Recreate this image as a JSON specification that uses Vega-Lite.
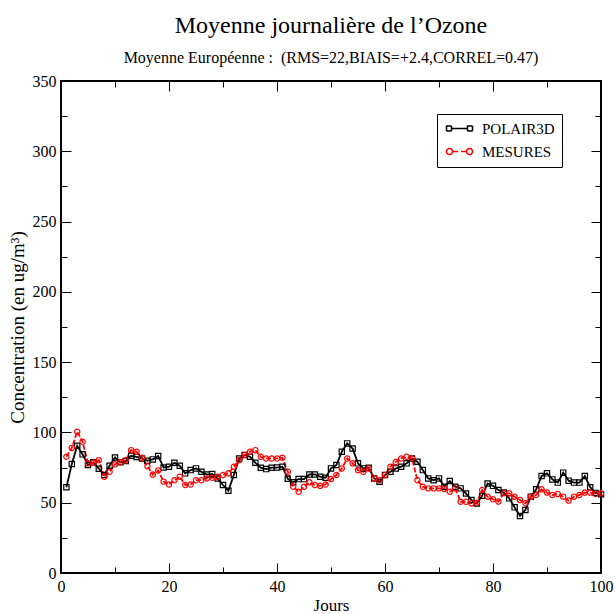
{
  "$schema": "https://vega.github.io/schema/vega-lite/v6.json",
  "autosize": "none",
  "width": 540,
  "height": 492,
  "padding": {"left": 61, "top": 81, "right": 15, "bottom": 41},
  "background": "white",
  "title": {
    "text": "Moyenne journalière de l’Ozone",
    "subtitle": "Moyenne Européenne : \u00a0(RMS=22,BIAIS=+2.4,CORREL=0.47)",
    "font": "Liberation Serif",
    "fontSize": 24,
    "fontWeight": "normal",
    "color": "black",
    "subtitleFont": "Liberation Serif",
    "subtitleFontSize": 16,
    "subtitleColor": "black",
    "subtitlePadding": 12,
    "offset": 7,
    "anchor": "middle",
    "frame": "group"
  },
  "config": {
    "view": {"stroke": "black", "strokeWidth": 2},
    "axis": {
      "labelFont": "Liberation Serif",
      "labelFontSize": 16,
      "labelColor": "black",
      "titleFont": "Liberation Serif",
      "titleFontSize": 16,
      "titleFontWeight": "normal",
      "titleColor": "black",
      "domain": false,
      "grid": false,
      "tickColor": "black",
      "tickWidth": 1,
      "tickSize": 0,
      "labelFlush": false,
      "labelOverlap": false
    },
    "legend": {
      "orient": "none",
      "legendX": 376,
      "legendY": 33,
      "title": null,
      "strokeColor": "black",
      "fillColor": "white",
      "padding": 7,
      "labelFont": "Liberation Serif",
      "labelFontSize": 15,
      "labelColor": "black",
      "symbolSize": 100,
      "symbolStrokeWidth": 1.5,
      "rowPadding": 7,
      "labelOffset": 23
    }
  },
  "data": {
    "values": [
      {"d":1,"s":"POLAIR3D","v":61},{"d":2,"s":"POLAIR3D","v":77.5},{"d":3,"s":"POLAIR3D","v":90.5},{"d":4,"s":"POLAIR3D","v":84.4},{"d":5,"s":"POLAIR3D","v":76.8},
      {"d":6,"s":"POLAIR3D","v":78.7},{"d":7,"s":"POLAIR3D","v":74.2},{"d":8,"s":"POLAIR3D","v":69.7},{"d":9,"s":"POLAIR3D","v":76.3},{"d":10,"s":"POLAIR3D","v":82.2},
      {"d":11,"s":"POLAIR3D","v":78.7},{"d":12,"s":"POLAIR3D","v":79.6},{"d":13,"s":"POLAIR3D","v":83.4},{"d":14,"s":"POLAIR3D","v":82.5},{"d":15,"s":"POLAIR3D","v":81.5},
      {"d":16,"s":"POLAIR3D","v":79.9},{"d":17,"s":"POLAIR3D","v":80.8},{"d":18,"s":"POLAIR3D","v":83.2},{"d":19,"s":"POLAIR3D","v":75.1},{"d":20,"s":"POLAIR3D","v":75.6},
      {"d":21,"s":"POLAIR3D","v":78.4},{"d":22,"s":"POLAIR3D","v":76.3},{"d":23,"s":"POLAIR3D","v":70.9},{"d":24,"s":"POLAIR3D","v":73.2},{"d":25,"s":"POLAIR3D","v":74.4},
      {"d":26,"s":"POLAIR3D","v":72},{"d":27,"s":"POLAIR3D","v":70.1},{"d":28,"s":"POLAIR3D","v":70.4},{"d":29,"s":"POLAIR3D","v":67.3},{"d":30,"s":"POLAIR3D","v":62.6},
      {"d":31,"s":"POLAIR3D","v":58.5},{"d":32,"s":"POLAIR3D","v":69.7},{"d":33,"s":"POLAIR3D","v":81.5},{"d":34,"s":"POLAIR3D","v":83.9},{"d":35,"s":"POLAIR3D","v":82.7},
      {"d":36,"s":"POLAIR3D","v":78.4},{"d":37,"s":"POLAIR3D","v":74.9},{"d":38,"s":"POLAIR3D","v":73.9},{"d":39,"s":"POLAIR3D","v":74.9},{"d":40,"s":"POLAIR3D","v":75},
      {"d":41,"s":"POLAIR3D","v":75.6},{"d":42,"s":"POLAIR3D","v":67},{"d":43,"s":"POLAIR3D","v":64.5},{"d":44,"s":"POLAIR3D","v":66.8},{"d":45,"s":"POLAIR3D","v":66.8},
      {"d":46,"s":"POLAIR3D","v":70.1},{"d":47,"s":"POLAIR3D","v":70.1},{"d":48,"s":"POLAIR3D","v":68.5},{"d":49,"s":"POLAIR3D","v":67.8},{"d":50,"s":"POLAIR3D","v":74.4},
      {"d":51,"s":"POLAIR3D","v":76.8},{"d":52,"s":"POLAIR3D","v":86.3},{"d":53,"s":"POLAIR3D","v":92.2},{"d":54,"s":"POLAIR3D","v":88.6},{"d":55,"s":"POLAIR3D","v":78},
      {"d":56,"s":"POLAIR3D","v":74.4},{"d":57,"s":"POLAIR3D","v":74.9},{"d":58,"s":"POLAIR3D","v":67.3},{"d":59,"s":"POLAIR3D","v":64.9},{"d":60,"s":"POLAIR3D","v":69.7},
      {"d":61,"s":"POLAIR3D","v":72},{"d":62,"s":"POLAIR3D","v":74.4},{"d":63,"s":"POLAIR3D","v":75.6},{"d":64,"s":"POLAIR3D","v":78},{"d":65,"s":"POLAIR3D","v":81.5},
      {"d":66,"s":"POLAIR3D","v":79.1},{"d":67,"s":"POLAIR3D","v":73.2},{"d":68,"s":"POLAIR3D","v":67.3},{"d":69,"s":"POLAIR3D","v":66},{"d":70,"s":"POLAIR3D","v":67.3},
      {"d":71,"s":"POLAIR3D","v":61.4},{"d":72,"s":"POLAIR3D","v":65.4},{"d":73,"s":"POLAIR3D","v":61.4},{"d":74,"s":"POLAIR3D","v":60.2},{"d":75,"s":"POLAIR3D","v":56.6},
      {"d":76,"s":"POLAIR3D","v":51.9},{"d":77,"s":"POLAIR3D","v":49.5},{"d":78,"s":"POLAIR3D","v":55},{"d":79,"s":"POLAIR3D","v":63.7},{"d":80,"s":"POLAIR3D","v":62},
      {"d":81,"s":"POLAIR3D","v":59},{"d":82,"s":"POLAIR3D","v":57.2},{"d":83,"s":"POLAIR3D","v":53.1},{"d":84,"s":"POLAIR3D","v":46.7},{"d":85,"s":"POLAIR3D","v":40.6},
      {"d":86,"s":"POLAIR3D","v":44.8},{"d":87,"s":"POLAIR3D","v":54.3},{"d":88,"s":"POLAIR3D","v":59.5},{"d":89,"s":"POLAIR3D","v":69},{"d":90,"s":"POLAIR3D","v":70.9},
      {"d":91,"s":"POLAIR3D","v":66.6},{"d":92,"s":"POLAIR3D","v":64.3},{"d":93,"s":"POLAIR3D","v":71.4},{"d":94,"s":"POLAIR3D","v":65.7},{"d":95,"s":"POLAIR3D","v":64.3},
      {"d":96,"s":"POLAIR3D","v":64.3},{"d":97,"s":"POLAIR3D","v":69},{"d":98,"s":"POLAIR3D","v":61},{"d":99,"s":"POLAIR3D","v":57},{"d":100,"s":"POLAIR3D","v":56},
      {"d":1,"s":"MESURES","v":82.7},{"d":2,"s":"MESURES","v":89},{"d":3,"s":"MESURES","v":100.5},{"d":4,"s":"MESURES","v":93.4},{"d":5,"s":"MESURES","v":78},
      {"d":6,"s":"MESURES","v":78.4},{"d":7,"s":"MESURES","v":80.3},{"d":8,"s":"MESURES","v":68.5},{"d":9,"s":"MESURES","v":72},{"d":10,"s":"MESURES","v":77.3},
      {"d":11,"s":"MESURES","v":79},{"d":12,"s":"MESURES","v":80.3},{"d":13,"s":"MESURES","v":87.4},{"d":14,"s":"MESURES","v":86.3},{"d":15,"s":"MESURES","v":82},
      {"d":16,"s":"MESURES","v":76},{"d":17,"s":"MESURES","v":70},{"d":18,"s":"MESURES","v":73},{"d":19,"s":"MESURES","v":65},{"d":20,"s":"MESURES","v":63},
      {"d":21,"s":"MESURES","v":66},{"d":22,"s":"MESURES","v":68.5},{"d":23,"s":"MESURES","v":62.6},{"d":24,"s":"MESURES","v":63},{"d":25,"s":"MESURES","v":66},
      {"d":26,"s":"MESURES","v":66},{"d":27,"s":"MESURES","v":67.3},{"d":28,"s":"MESURES","v":67.8},{"d":29,"s":"MESURES","v":68.5},{"d":30,"s":"MESURES","v":69.7},
      {"d":31,"s":"MESURES","v":70.9},{"d":32,"s":"MESURES","v":75.6},{"d":33,"s":"MESURES","v":80.3},{"d":34,"s":"MESURES","v":83.9},{"d":35,"s":"MESURES","v":86.3},
      {"d":36,"s":"MESURES","v":87.4},{"d":37,"s":"MESURES","v":82.7},{"d":38,"s":"MESURES","v":81.5},{"d":39,"s":"MESURES","v":81.5},{"d":40,"s":"MESURES","v":81.5},
      {"d":41,"s":"MESURES","v":82},{"d":42,"s":"MESURES","v":72},{"d":43,"s":"MESURES","v":61.4},{"d":44,"s":"MESURES","v":57.8},{"d":45,"s":"MESURES","v":61.4},
      {"d":46,"s":"MESURES","v":64.5},{"d":47,"s":"MESURES","v":62.6},{"d":48,"s":"MESURES","v":62},{"d":49,"s":"MESURES","v":63},{"d":50,"s":"MESURES","v":66.8},
      {"d":51,"s":"MESURES","v":69.7},{"d":52,"s":"MESURES","v":74.4},{"d":53,"s":"MESURES","v":81.5},{"d":54,"s":"MESURES","v":78},{"d":55,"s":"MESURES","v":73.2},
      {"d":56,"s":"MESURES","v":72},{"d":57,"s":"MESURES","v":74.4},{"d":58,"s":"MESURES","v":67.3},{"d":59,"s":"MESURES","v":66},{"d":60,"s":"MESURES","v":69.7},
      {"d":61,"s":"MESURES","v":75.6},{"d":62,"s":"MESURES","v":79},{"d":63,"s":"MESURES","v":81.5},{"d":64,"s":"MESURES","v":82.7},{"d":65,"s":"MESURES","v":81.5},
      {"d":66,"s":"MESURES","v":66},{"d":67,"s":"MESURES","v":61.4},{"d":68,"s":"MESURES","v":60.2},{"d":69,"s":"MESURES","v":60.2},{"d":70,"s":"MESURES","v":60.2},
      {"d":71,"s":"MESURES","v":59.7},{"d":72,"s":"MESURES","v":57.8},{"d":73,"s":"MESURES","v":60.2},{"d":74,"s":"MESURES","v":50.7},{"d":75,"s":"MESURES","v":50.7},
      {"d":76,"s":"MESURES","v":49.5},{"d":77,"s":"MESURES","v":50},{"d":78,"s":"MESURES","v":59},{"d":79,"s":"MESURES","v":54.3},{"d":80,"s":"MESURES","v":52.5},
      {"d":81,"s":"MESURES","v":50.8},{"d":82,"s":"MESURES","v":56.7},{"d":83,"s":"MESURES","v":56.7},{"d":84,"s":"MESURES","v":54.3},{"d":85,"s":"MESURES","v":52},
      {"d":86,"s":"MESURES","v":49.6},{"d":87,"s":"MESURES","v":54.3},{"d":88,"s":"MESURES","v":55.5},{"d":89,"s":"MESURES","v":59.5},{"d":90,"s":"MESURES","v":57.2},
      {"d":91,"s":"MESURES","v":55.5},{"d":92,"s":"MESURES","v":56.2},{"d":93,"s":"MESURES","v":54.3},{"d":94,"s":"MESURES","v":51.5},{"d":95,"s":"MESURES","v":54.3},
      {"d":96,"s":"MESURES","v":55.5},{"d":97,"s":"MESURES","v":57.2},{"d":98,"s":"MESURES","v":57.2},{"d":99,"s":"MESURES","v":56.2},{"d":100,"s":"MESURES","v":56.7}
    ]
  },
  "layer": [
    {
      "mark": {"type": "line", "strokeWidth": 1.8},
      "encoding": {
        "x": {
          "field": "d", "type": "quantitative",
          "scale": {"domain": [0, 100], "nice": false},
          "axis": {
            "orient": "bottom",
            "values": [0,10,20,30,40,50,60,70,80,90,100],
            "labelExpr": "datum.value % 20 === 0 ? datum.label : ''",
            "labelPadding": 5,
            "title": "Jours",
            "titleFontSize": 17,
            "titlePadding": 3,
            "encoding": {"ticks": {"y2": {"value": {"expr": "datum.value % 20 === 0 ? -10 : -6"}}}}
          }
        },
        "y": {
          "field": "v", "type": "quantitative",
          "scale": {"domain": [0, 350], "nice": false},
          "axis": {
            "orient": "left",
            "values": [0,25,50,75,100,125,150,175,200,225,250,275,300,325,350],
            "labelExpr": "datum.value % 50 === 0 ? datum.label : ''",
            "labelPadding": 5,
            "title": "Concentration (en ug/m³)",
            "titleFontSize": 19,
            "titlePadding": 5,
            "encoding": {"ticks": {"x2": {"value": {"expr": "datum.value % 50 === 0 ? 10 : 6"}}}}
          }
        },
        "color": {
          "field": "s", "type": "nominal",
          "scale": {"domain": ["MESURES", "POLAIR3D"], "range": ["red", "black"]},
          "legend": {
            "values": ["POLAIR3D", "MESURES"],
            "encoding": {
              "symbols": {
                "shape": {"value": {"expr": "datum.value === 'POLAIR3D' ? 'M0,0H3.2M-1,-0.5H0V0.5H-1ZM3.2,-0.5H4.2V0.5H3.2Z' : 'M0.2,0H1.3M1.9,0H3M0.2,0A0.6,0.6 0 1,1 -1,0A0.6,0.6 0 1,1 0.2,0ZM4.2,0A0.6,0.6 0 1,1 3,0A0.6,0.6 0 1,1 4.2,0Z'"}},
                "fill": {"value": "transparent"},
                "strokeDash": {"value": [1, 0]}
              }
            }
          }
        },
        "strokeDash": {
          "field": "s", "type": "nominal",
          "scale": {"domain": ["POLAIR3D", "MESURES"], "range": [[1, 0], [5, 2]]},
          "legend": null
        }
      }
    },
    {
      "mark": {"type": "point", "filled": false, "size": 28, "strokeWidth": 1.2, "opacity": 1},
      "encoding": {
        "x": {
          "field": "d", "type": "quantitative",
          "axis": {
            "orient": "top",
            "values": [0,10,20,30,40,50,60,70,80,90,100],
            "labels": false,
            "title": null,
            "encoding": {"ticks": {"y2": {"value": {"expr": "datum.value % 20 === 0 ? 10 : 6"}}}}
          }
        },
        "y": {
          "field": "v", "type": "quantitative",
          "axis": {
            "orient": "right",
            "values": [0,25,50,75,100,125,150,175,200,225,250,275,300,325,350],
            "labels": false,
            "title": null,
            "encoding": {"ticks": {"x2": {"value": {"expr": "datum.value % 50 === 0 ? -10 : -6"}}}}
          }
        },
        "color": {
          "field": "s", "type": "nominal",
          "legend": {
            "values": ["POLAIR3D", "MESURES"],
            "encoding": {
              "symbols": {
                "shape": {"value": {"expr": "datum.value === 'POLAIR3D' ? 'M0,0H3.2M-1,-0.5H0V0.5H-1ZM3.2,-0.5H4.2V0.5H3.2Z' : 'M0.2,0H1.3M1.9,0H3M0.2,0A0.6,0.6 0 1,1 -1,0A0.6,0.6 0 1,1 0.2,0ZM4.2,0A0.6,0.6 0 1,1 3,0A0.6,0.6 0 1,1 4.2,0Z'"}},
                "fill": {"value": "transparent"},
                "strokeDash": {"value": [1, 0]}
              }
            }
          }
        },
        "shape": {
          "field": "s", "type": "nominal",
          "scale": {"domain": ["POLAIR3D", "MESURES"], "range": ["square", "circle"]},
          "legend": null
        }
      }
    }
  ],
  "resolve": {"axis": {"x": "independent", "y": "independent"}}
}
